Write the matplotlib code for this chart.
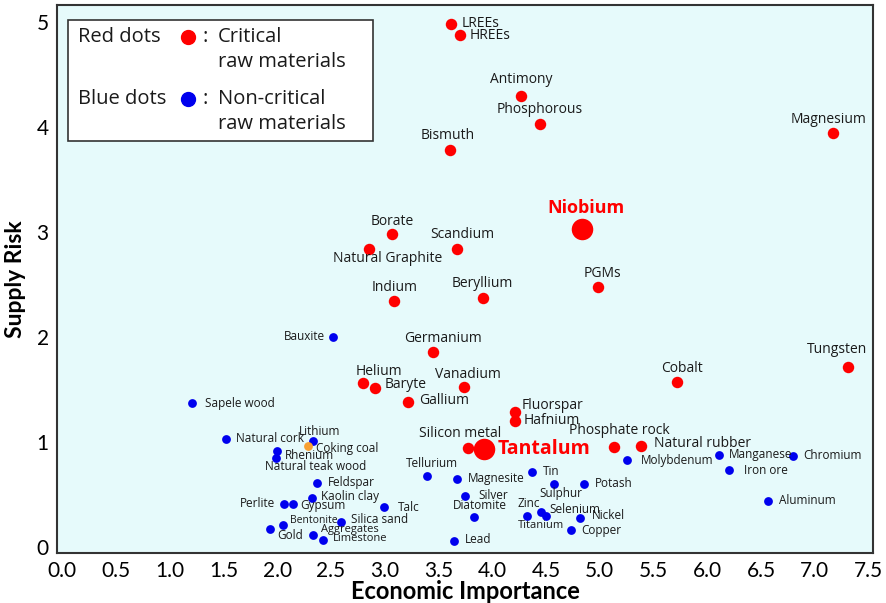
import matplotlib
matplotlib.use("Agg")
import matplotlib.pyplot as plt
from matplotlib.patches import Rectangle

# --- data (economic importance, supply risk) ---
crit_names = ["LREEs", "HREEs", "Antimony", "Phosphorous", "Magnesium", "Bismuth",
              "Borate", "Scandium", "Natural Graphite", "PGMs", "Indium", "Beryllium",
              "Germanium", "Tungsten", "Cobalt", "Helium", "Baryte", "Vanadium",
              "Gallium", "Fluorspar", "Hafnium", "Silicon metal", "Phosphate rock",
              "Natural rubber"]
crit_ei = [3.62, 3.70, 4.27, 4.44, 7.17, 3.61, 3.07, 3.67, 2.85, 4.98, 3.09, 3.91,
           3.45, 7.31, 5.72, 2.80, 2.91, 3.74, 3.22, 4.21, 4.21, 3.77, 5.13, 5.38]
crit_sr = [4.98, 4.87, 4.29, 4.03, 3.94, 3.78, 2.98, 2.84, 2.84, 2.48, 2.34, 2.37,
           1.86, 1.71, 1.57, 1.56, 1.51, 1.52, 1.38, 1.29, 1.20, 0.94, 0.95, 0.96]

# highlighted critical materials
big_names = ["Niobium", "Tantalum"]
big_ei = [4.83, 3.92]
big_sr = [3.03, 0.93]

noncrit_names = ["Sapele wood", "Bauxite", "Natural cork", "Lithium", "Rhenium",
                 "Natural teak wood", "Feldspar", "Kaolin clay", "Perlite", "Gypsum",
                 "Talc", "Bentonite", "Gold", "Aggregates", "Silica sand", "Limestone",
                 "Tellurium", "Magnesite", "Tin", "Potash", "Sulphur", "Silver",
                 "Diatomite", "Zinc", "Selenium", "Titanium", "Nickel", "Copper", "Lead",
                 "Molybdenum", "Manganese", "Iron ore", "Chromium", "Aluminum"]
noncrit_ei = [1.21, 2.52, 1.52, 2.33, 2.00, 1.99, 2.37, 2.32, 2.06, 2.15,
              2.99, 2.05, 1.93, 2.33, 2.59, 2.43,
              3.39, 3.67, 4.37, 4.85, 4.57, 3.75,
              3.83, 4.32, 4.45, 4.50, 4.82, 4.73, 3.64,
              5.25, 6.11, 6.20, 6.80, 6.56]
noncrit_sr = [1.37, 2.00, 1.03, 1.01, 0.91, 0.85, 0.61, 0.47, 0.41, 0.41,
              0.38, 0.21, 0.17, 0.11, 0.24, 0.07,
              0.68, 0.65, 0.71, 0.60, 0.60, 0.49,
              0.29, 0.30, 0.33, 0.30, 0.28, 0.16, 0.06,
              0.83, 0.88, 0.73, 0.87, 0.44]

other_names = ["Coking coal"]
other_ei = [2.29]
other_sr = [0.96]

# label placement: (dx px, dy px, ha)
crit_pos = {
    "LREEs": (10, 0, "left"), "HREEs": (10, 0, "left"), "Antimony": (0, 17, "center"),
    "Phosphorous": (0, 14, "center"), "Magnesium": (-5, 14, "center"),
    "Bismuth": (-3, 14, "center"), "Borate": (0, 12, "center"),
    "Scandium": (6, 14, "center"), "Natural Graphite": (19, -10, "center"),
    "PGMs": (5, 13, "center"), "Indium": (0, 14, "center"), "Beryllium": (0, 15, "center"),
    "Germanium": (10, 13, "center"), "Tungsten": (-11, 18, "center"),
    "Cobalt": (5, 14, "center"), "Helium": (16, 12, "center"), "Baryte": (10, 4, "left"),
    "Vanadium": (4, 13, "center"), "Gallium": (11, 2, "left"), "Fluorspar": (7, 6, "left"),
    "Hafnium": (9, 0, "left"), "Silicon metal": (-7, 15, "center"),
    "Phosphate rock": (6, 17, "center"), "Natural rubber": (13, 3, "left"),
}
big_pos = {"Niobium": (4, 21, "center", 13), "Tantalum": (14, 0, "left", 14)}
noncrit_pos = {
    "Sapele wood": (13, 0, "left"), "Bauxite": (-8, 0, "right"),
    "Natural cork": (10, 0, "left"), "Lithium": (7, 9, "center"),
    "Rhenium": (8, -4, "left"), "Natural teak wood": (40, -9, "center"),
    "Feldspar": (11, 0, "left"), "Kaolin clay": (9, 1, "left"), "Perlite": (-8, 0, "right"),
    "Gypsum": (7, -2, "left"), "Talc": (14, 0, "left"), "Bentonite": (7, 4, "left"),
    "Gold": (8, -6, "left"), "Aggregates": (8, 6, "left"), "Silica sand": (10, 2, "left"),
    "Limestone": (9, 1, "left"), "Tellurium": (5, 12, "center"),
    "Magnesite": (11, 0, "left"), "Tin": (11, 1, "left"), "Potash": (11, 0, "left"),
    "Sulphur": (7, -10, "center"), "Silver": (13, 0, "left"), "Diatomite": (6, 11, "center"),
    "Zinc": (2, 12, "center"), "Selenium": (9, 3, "left"), "Titanium": (-5, -10, "center"),
    "Nickel": (11, 2, "left"), "Copper": (10, 0, "left"), "Lead": (11, 1, "left"),
    "Molybdenum": (14, -1, "left"), "Manganese": (10, 0, "left"),
    "Iron ore": (15, 0, "left"), "Chromium": (10, 0, "left"), "Aluminum": (11, 0, "left"),
}
small_font = {"Bentonite": 7.5, "Aggregates": 8, "Limestone": 8, "Titanium": 8}
other_pos = {"Coking coal": (8, -2, "left")}

RED = "#ff0000"
BLUE = "#0000ee"
ORANGE = "#f7a033"
TXT = "#1a1a1a"

plt.rcParams["font.family"] = ["Open Sans", "DejaVu Sans"]

fig = plt.figure(figsize=(8.86, 6.03), dpi=100)
ax = fig.add_axes([57 / 886, 1 - 553 / 603, (873 - 57) / 886, (553 - 5) / 603])
ax.set_facecolor("#e6fafb")

ax.scatter(noncrit_ei, noncrit_sr, s=40, color=BLUE, zorder=3, linewidths=0)
ax.scatter(other_ei, other_sr, s=40, color=ORANGE, zorder=4, linewidths=0)
ax.scatter(crit_ei, crit_sr, s=68, color=RED, zorder=3, linewidths=0)
ax.scatter(big_ei, big_sr, s=240, color=RED, zorder=3, linewidths=0)


def lab(name, x, y, dx, dy, ha, size, color=TXT, weight="normal"):
    ax.annotate(name, (x, y), xytext=(dx * 0.72, dy * 0.72), textcoords="offset points",
                ha=ha, va="center", fontsize=size, color=color, fontweight=weight, zorder=5)


for n, x, y in zip(crit_names, crit_ei, crit_sr):
    dx, dy, ha = crit_pos[n]
    lab(n, x, y, dx, dy, ha, 10)
for n, x, y in zip(big_names, big_ei, big_sr):
    dx, dy, ha, fs = big_pos[n]
    lab(n, x, y, dx, dy, ha, fs, color=RED, weight="bold")
for n, x, y in zip(noncrit_names, noncrit_ei, noncrit_sr):
    dx, dy, ha = noncrit_pos[n]
    lab(n, x, y, dx, dy, ha, small_font.get(n, 8.5))
for n, x, y in zip(other_names, other_ei, other_sr):
    dx, dy, ha = other_pos[n]
    lab(n, x, y, dx, dy, ha, 8.5)

ax.set_xlim(-0.047, 7.54)
ax.set_ylim(-0.057, 5.16)
ax.set_xticks([i * 0.5 for i in range(16)])
ax.set_xticklabels([f"{i * 0.5:.1f}" for i in range(16)])
ax.set_yticks(range(6))
ax.tick_params(length=0, labelsize=15, pad=6)
for t in ax.get_xticklabels() + ax.get_yticklabels():
    t.set_family("Lato")
ax.set_xlabel("Economic Importance", fontsize=17, fontweight="bold", family="Lato")
ax.xaxis.set_label_coords(0.5, -0.05)
ax.set_ylabel("Supply Risk", fontsize=16.5, fontweight="bold", family="Lato")
ax.yaxis.set_label_coords(-0.038, 0.5)
for spine in ax.spines.values():
    spine.set_color("#333333")
    spine.set_linewidth(1.5)

# legend box drawn by hand
def fp(x, y):
    return x / 886, 1 - y / 603

box_x, box_y = fp(68, 141)
box_x2, box_y2 = fp(373, 20)
fig.patches.append(Rectangle((box_x, box_y), box_x2 - box_x, box_y2 - box_y,
                             transform=fig.transFigure, facecolor="white",
                             edgecolor="#333333", linewidth=1.2, zorder=6))
leg_rows = [("Red dots", RED, "Critical", 37), ("Blue dots", BLUE, "Non-critical", 99)]
for txt, col, desc, yy in leg_rows:
    fig.text(*fp(78, yy), txt, fontsize=14.5, va="center", ha="left", color=TXT, zorder=7)
    fig.lines.append(plt.Line2D([188 / 886], [1 - yy / 603], marker="o", markersize=10,
                                color=col, linewidth=0, transform=fig.transFigure, zorder=7))
    fig.text(*fp(205, yy), ":", fontsize=14.5, va="center", ha="center", color=TXT, zorder=7)
    fig.text(*fp(218, yy), desc, fontsize=14.5, va="center", ha="left", color=TXT, zorder=7)
    fig.text(*fp(218, yy + 25), "raw materials", fontsize=14.5, va="center", ha="left",
             color=TXT, zorder=7)

fig.savefig("out.png", dpi=100)
